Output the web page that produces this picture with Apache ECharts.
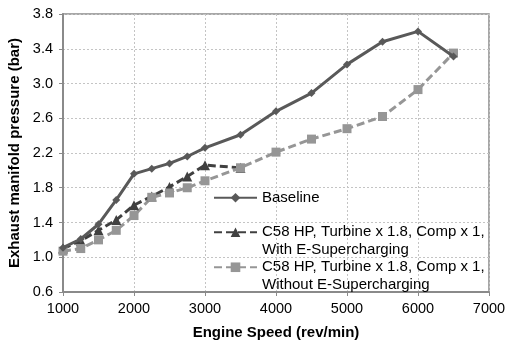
<!DOCTYPE html>
<html>
<head>
<meta charset="utf-8">
<script src="https://cdn.jsdelivr.net/npm/echarts@6/dist/echarts.min.js"></script>
<style>
  html, body { margin: 0; padding: 0; background: #fff; }
  #chart { width: 507px; height: 340px; }
</style>
</head>
<body>
<div id="chart"></div>
<script>
// Engine speed sweep (rev/min)
var speeds = [1000, 1250, 1500, 1750, 2000, 2250, 2500, 2750, 3000, 3500, 4000, 4500, 5000, 5500, 6000, 6500];
var speedsWithE = [1000, 1250, 1500, 1750, 2000, 2250, 2500, 2750, 3000, 3500];

// Exhaust manifold pressure (bar)
var baseline = [1.11, 1.21, 1.38, 1.66, 1.96, 2.02, 2.08, 2.16, 2.26, 2.41, 2.68, 2.89, 3.22, 3.48, 3.60, 3.31];
var withESupercharging = [1.10, 1.19, 1.31, 1.43, 1.60, 1.70, 1.81, 1.93, 2.06, 2.03];
var withoutESupercharging = [1.07, 1.10, 1.20, 1.31, 1.48, 1.69, 1.74, 1.80, 1.88, 2.03, 2.21, 2.36, 2.48, 2.62, 2.93, 3.35];

var seriesNames = [
  'Baseline',
  'C58 HP, Turbine x 1.8, Comp x 1,\nWith E-Supercharging',
  'C58 HP, Turbine x 1.8, Comp x 1,\nWithout E-Supercharging'
];

function pairs(xs, ys) {
  return ys.map(function (y, i) { return [xs[i], y]; });
}

var FONT = 'Liberation Sans, Arial, sans-serif';

// One legend per entry so each marker sits beside the first line of its text.
function legendFor(name, top, twoLines) {
  return {
    data: [{ name: name }],
    left: 213,
    top: top,
    orient: 'vertical',
    padding: 0,
    itemWidth: 43,
    itemHeight: 12,
    selectedMode: false,
    formatter: function (n) { return twoLines ? '\u00a0\n' + n : n; },
    textStyle: { fontFamily: FONT, fontSize: 15, color: '#000', lineHeight: 17.5 }
  };
}

var chart = echarts.init(document.getElementById('chart'), null, { renderer: 'canvas' });
chart.setOption({
  animation: false,
  backgroundColor: '#fff',
  grid: {
    left: 63, right: 18, top: 14, bottom: 48,
    outerBoundsMode: 'none',
    containLabel: false,
    show: true, borderColor: '#8a8a8a', borderWidth: 1.5
  },
  legend: [
    legendFor(seriesNames[0], 189, false),
    legendFor(seriesNames[1], 206, true),
    legendFor(seriesNames[2], 241, true)
  ],
  xAxis: {
    type: 'value',
    min: 1000, max: 7000, interval: 1000,
    name: 'Engine Speed (rev/min)',
    nameLocation: 'middle',
    nameGap: 33,
    nameTextStyle: { fontFamily: FONT, fontSize: 15, fontWeight: 'bold', color: '#000' },
    axisLine: { show: true, lineStyle: { color: '#8a8a8a', width: 2 } },
    axisTick: { show: true, length: 4, lineStyle: { color: '#8a8a8a' } },
    axisLabel: {
      margin: 9, fontFamily: FONT, fontSize: 14.5, color: '#000',
      formatter: function (v) { return String(v); }
    },
    splitLine: { show: true, lineStyle: { color: '#c4c4c4', type: [2, 2], width: 1 } }
  },
  yAxis: {
    type: 'value',
    min: 0.6, max: 3.8, interval: 0.4,
    name: 'Exhaust manifold pressure (bar)',
    nameLocation: 'middle',
    nameGap: 35,
    nameTextStyle: { fontFamily: FONT, fontSize: 15, fontWeight: 'bold', color: '#000' },
    axisLine: { show: true, lineStyle: { color: '#8a8a8a', width: 2 } },
    axisTick: { show: true, length: 4, lineStyle: { color: '#8a8a8a' } },
    axisLabel: {
      margin: 10, fontFamily: FONT, fontSize: 14.5, color: '#000',
      formatter: function (v) { return v.toFixed(1); }
    },
    splitLine: { show: true, lineStyle: { color: '#c4c4c4', type: [2, 2], width: 1 } }
  },
  series: [
    {
      name: seriesNames[0],
      type: 'line',
      data: pairs(speeds, baseline),
      symbol: 'diamond', symbolSize: 8,
      itemStyle: { color: '#595959' },
      lineStyle: { color: '#595959', width: 3 },
      z: 3
    },
    {
      name: seriesNames[1],
      type: 'line',
      data: pairs(speedsWithE, withESupercharging),
      symbol: 'triangle', symbolSize: 10,
      itemStyle: { color: '#404040' },
      lineStyle: { color: '#404040', width: 3, type: [8, 4] },
      z: 2
    },
    {
      name: seriesNames[2],
      type: 'line',
      data: pairs(speeds, withoutESupercharging),
      symbol: 'rect', symbolSize: 9,
      itemStyle: { color: '#969696' },
      lineStyle: { color: '#969696', width: 3, type: [8, 4] },
      z: 2
    }
  ]
});
</script>
</body>
</html>
